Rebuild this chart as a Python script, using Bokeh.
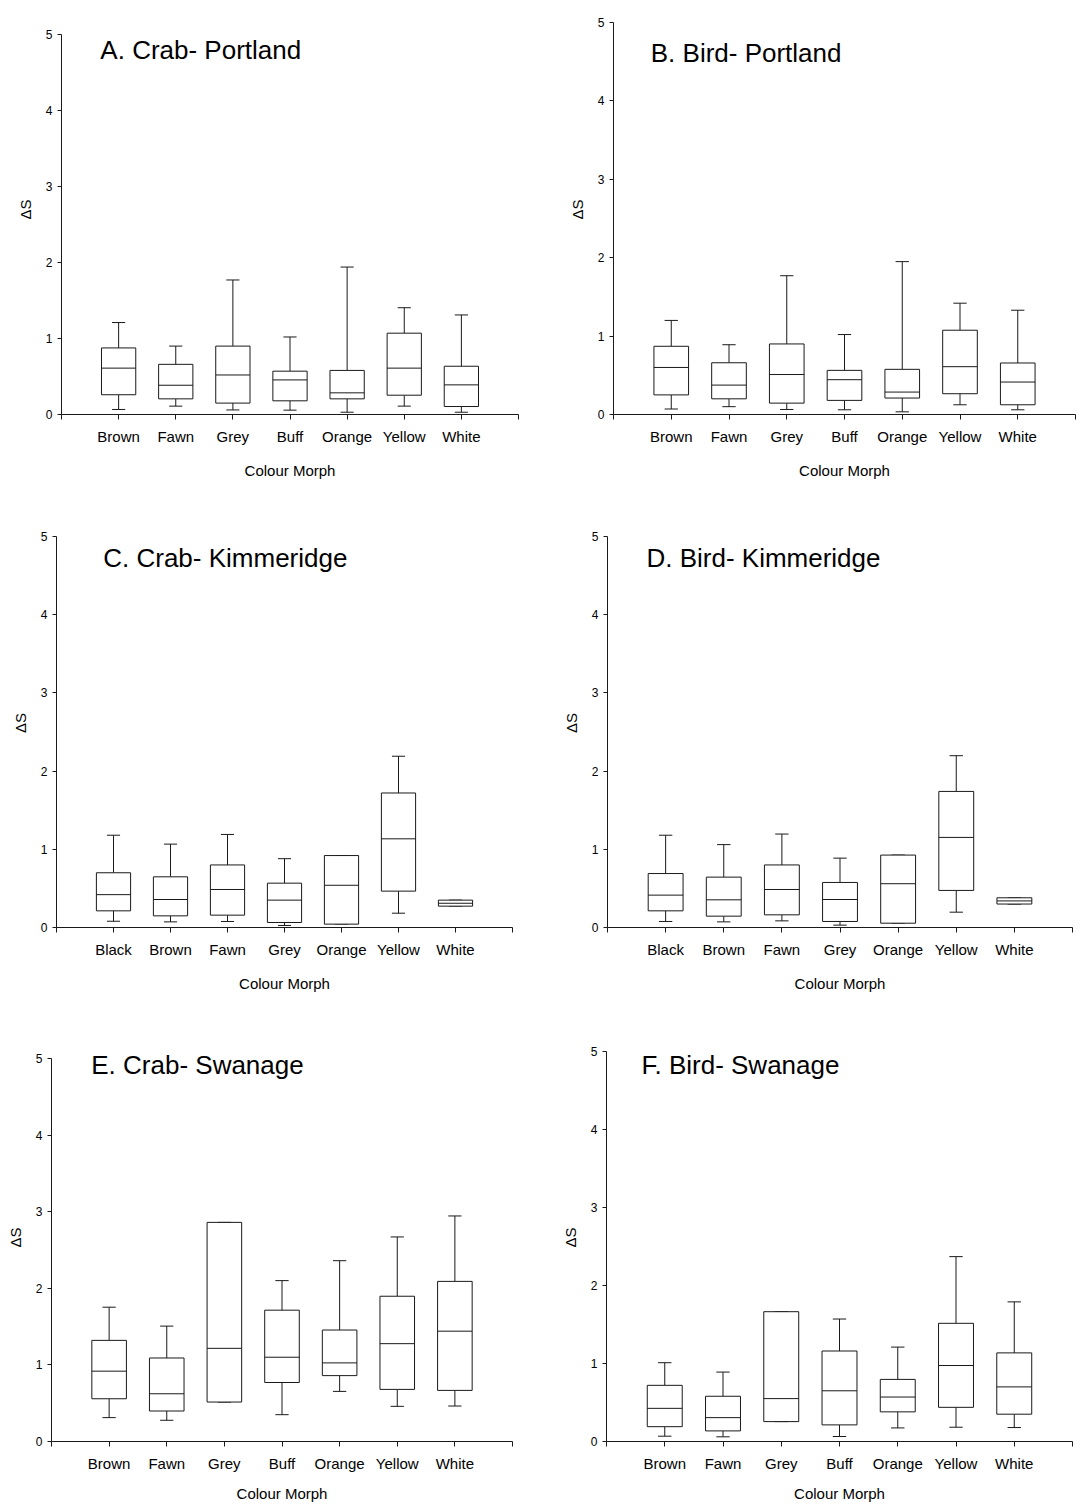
from bokeh.plotting import figure
from bokeh.layouts import column, row
from bokeh.models import FixedTicker, Label, ColumnDataSource, Range1d
from bokeh.embed import file_html
from bokeh.resources import INLINE

# ---------------- data ----------------
morphs_portland = ["Brown", "Fawn", "Grey", "Buff", "Orange", "Yellow", "White"]
morphs_kimmeridge = ["Black", "Brown", "Fawn", "Grey", "Orange", "Yellow", "White"]
morphs_swanage = ["Brown", "Fawn", "Grey", "Buff", "Orange", "Yellow", "White"]

# A. Crab - Portland
a_low = [0.066, 0.11, 0.06, 0.057, 0.03, 0.11, 0.03]
a_q1 = [0.26, 0.206, 0.15, 0.18, 0.206, 0.254, 0.105]
a_med = [0.61, 0.385, 0.52, 0.455, 0.285, 0.61, 0.39]
a_q3 = [0.876, 0.66, 0.90, 0.57, 0.58, 1.07, 0.635]
a_high = [1.21, 0.90, 1.77, 1.02, 1.94, 1.405, 1.31]

# B. Bird - Portland
b_low = [0.07, 0.10, 0.064, 0.06, 0.034, 0.124, 0.06]
b_q1 = [0.25, 0.20, 0.145, 0.18, 0.21, 0.265, 0.124]
b_med = [0.60, 0.375, 0.51, 0.444, 0.286, 0.61, 0.414]
b_q3 = [0.87, 0.66, 0.90, 0.563, 0.576, 1.075, 0.657]
b_high = [1.20, 0.89, 1.77, 1.02, 1.95, 1.42, 1.33]

# C. Crab - Kimmeridge
c_low = [0.08, 0.072, 0.077, 0.026, 0.043, 0.183, 0.273]
c_q1 = [0.213, 0.149, 0.158, 0.064, 0.043, 0.465, 0.273]
c_med = [0.42, 0.358, 0.486, 0.35, 0.54, 1.134, 0.31]
c_q3 = [0.70, 0.648, 0.80, 0.567, 0.92, 1.72, 0.35]
c_high = [1.18, 1.066, 1.19, 0.88, 0.92, 2.19, 0.35]

# D. Bird - Kimmeridge
d_low = [0.077, 0.072, 0.085, 0.03, 0.055, 0.196, 0.30]
d_q1 = [0.213, 0.145, 0.162, 0.077, 0.055, 0.474, 0.30]
d_med = [0.414, 0.354, 0.486, 0.358, 0.56, 1.152, 0.34]
d_q3 = [0.69, 0.644, 0.80, 0.576, 0.926, 1.74, 0.38]
d_high = [1.18, 1.06, 1.195, 0.887, 0.926, 2.197, 0.38]

# E. Crab - Swanage
e_low = [0.312, 0.277, 0.515, 0.35, 0.654, 0.459, 0.463]
e_q1 = [0.558, 0.398, 0.515, 0.77, 0.86, 0.68, 0.667]
e_med = [0.918, 0.623, 1.216, 1.10, 1.026, 1.277, 1.44]
e_q3 = [1.32, 1.09, 2.86, 1.714, 1.455, 1.896, 2.09]
e_high = [1.753, 1.506, 2.86, 2.10, 2.36, 2.67, 2.944]

# F. Bird - Swanage
f_low = [0.068, 0.06, 0.255, 0.064, 0.174, 0.183, 0.179]
f_q1 = [0.19, 0.136, 0.255, 0.213, 0.38, 0.438, 0.35]
f_med = [0.425, 0.306, 0.55, 0.65, 0.57, 0.974, 0.70]
f_q3 = [0.72, 0.58, 1.664, 1.16, 0.796, 1.515, 1.136]
f_high = [1.01, 0.89, 1.664, 1.57, 1.21, 2.37, 1.79]

y_ticks = [0, 1, 2, 3, 4, 5]
y_min, y_max = 0, 5
y_label = "ΔS"
x_label = "Colour Morph"

# ---------------- styling / layout ----------------
FONT = "Liberation Sans"
LINE = "#1a1a1a"
BOX_W = 0.6
CAP_W = 0.23
TOP_PAD = 18  # px of empty frame above the highest y=5 tick in a row


def make_panel(title, cats, low, q1, med, q3, high, geom, row_geom, tx, ty,
               xl_standoff=8, xlab_standoff=14):
    fx, fw, x0px, x1px, y5px = geom
    fy, fh, y0px, frame_top = row_geom
    n = len(cats)
    ppu = (y0px - y5px) / (y_max - y_min)
    xs = list(range(1, n + 1))
    src = ColumnDataSource(dict(
        x=xs, low=low, q1=q1, med=med, q3=q3, high=high,
        bl=[x - BOX_W / 2 for x in xs], br=[x + BOX_W / 2 for x in xs],
        cl=[x - CAP_W / 2 for x in xs], cr=[x + CAP_W / 2 for x in xs],
    ))
    p = figure(width=fw, height=fh, output_backend="svg",
               toolbar_location=None, title=None,
               x_range=Range1d(0, n + 1),
               y_range=Range1d(y_min, y_max + (y5px - frame_top) / ppu))
    p.min_border_left = x0px - fx
    p.min_border_right = fx + fw - x1px
    p.min_border_top = frame_top - fy
    p.min_border_bottom = fy + fh - y0px
    p.outline_line_color = None
    p.xgrid.visible = False
    p.ygrid.visible = False
    p.background_fill_color = "white"
    p.border_fill_color = "white"

    # whiskers
    p.segment(x0="x", y0="q3", x1="x", y1="high", source=src, line_color=LINE, line_width=1)
    p.segment(x0="x", y0="q1", x1="x", y1="low", source=src, line_color=LINE, line_width=1)
    # caps
    p.segment(x0="cl", y0="high", x1="cr", y1="high", source=src, line_color=LINE, line_width=1)
    p.segment(x0="cl", y0="low", x1="cr", y1="low", source=src, line_color=LINE, line_width=1)
    # boxes
    p.vbar(x="x", width=BOX_W, bottom="q1", top="q3", source=src,
           fill_color="white", line_color=LINE, line_width=1)
    # medians
    p.segment(x0="bl", y0="med", x1="br", y1="med", source=src, line_color=LINE, line_width=1)

    # x axis
    xa = p.xaxis[0]
    xa.ticker = FixedTicker(ticks=list(range(0, n + 2)))
    overrides = {0: "", n + 1: ""}
    for i, c in enumerate(cats):
        overrides[i + 1] = c
    xa.major_label_overrides = overrides
    xa.minor_tick_line_color = None
    xa.major_tick_in = 0
    xa.major_tick_out = 5
    xa.major_label_standoff = xl_standoff
    xa.major_label_text_font = FONT
    xa.major_label_text_font_size = "15px"
    xa.major_label_text_color = "black"
    xa.axis_label = x_label
    xa.axis_label_text_font = FONT
    xa.axis_label_text_font_size = "15px"
    xa.axis_label_text_font_style = "normal"
    xa.axis_label_text_color = "black"
    xa.axis_label_standoff = xlab_standoff
    xa.axis_line_color = LINE
    xa.major_tick_line_color = LINE

    # y axis
    ya = p.yaxis[0]
    ya.ticker = FixedTicker(ticks=y_ticks)
    ya.bounds = (y_min, y_max)
    ya.minor_tick_line_color = None
    ya.major_tick_in = 0
    ya.major_tick_out = 4
    ya.major_label_standoff = 5
    ya.major_label_text_font = FONT
    ya.major_label_text_font_size = "12px"
    ya.major_label_text_color = "black"
    ya.axis_label = y_label
    ya.axis_label_text_font = FONT
    ya.axis_label_text_font_size = "15px"
    ya.axis_label_text_font_style = "normal"
    ya.axis_label_text_color = "black"
    ya.axis_label_standoff = 9
    ya.axis_line_color = LINE
    ya.major_tick_line_color = LINE

    p.add_layout(Label(x=tx, y=ty, text=title, text_font=FONT,
                       text_font_size="26px", text_color="black",
                       text_align="left", text_baseline="middle"))
    return p


# row geometry: fig_y, fig_h, px of y=0 (shared), frame top px (shared)
R1 = (0, 510, 414, 22 - TOP_PAD)
R2 = (510, 520, 927, 536 - TOP_PAD)
R3 = (1030, 474, 1442, 1051 - TOP_PAD)
# panel geometry: fig_x, fig_w, px of x=0, px of x=n+1, px of y=5
GA = (0, 540, 61, 518, 34)
GB = (540, 540, 613, 1075, 22)
GC = (0, 540, 56, 512, 536)
GD = (540, 540, 607, 1072, 536)
GE = (0, 540, 51, 512, 1058)
GF = (540, 540, 606, 1072, 1051)

pA = make_panel("A. Crab- Portland", morphs_portland, a_low, a_q1, a_med, a_q3, a_high,
                GA, R1, 0.68, 4.79)
pB = make_panel("B. Bird- Portland", morphs_portland, b_low, b_q1, b_med, b_q3, b_high,
                GB, R1, 0.645, 4.615)
pC = make_panel("C. Crab- Kimmeridge", morphs_kimmeridge, c_low, c_q1, c_med, c_q3, c_high,
                GC, R2, 0.82, 4.73)
pD = make_panel("D. Bird- Kimmeridge", morphs_kimmeridge, d_low, d_q1, d_med, d_q3, d_high,
                GD, R2, 0.67, 4.73)
pE = make_panel("E. Crab- Swanage", morphs_swanage, e_low, e_q1, e_med, e_q3, e_high,
                GE, R3, 0.69, 4.91, 8, 10)
pF = make_panel("F. Bird- Swanage", morphs_swanage, f_low, f_q1, f_med, f_q3, f_high,
                GF, R3, 0.60, 4.82, 8, 10)

layout = column(row(pA, pB, spacing=0), row(pC, pD, spacing=0), row(pE, pF, spacing=0), spacing=0)

open("out.html", "w").write(file_html(layout, INLINE))
